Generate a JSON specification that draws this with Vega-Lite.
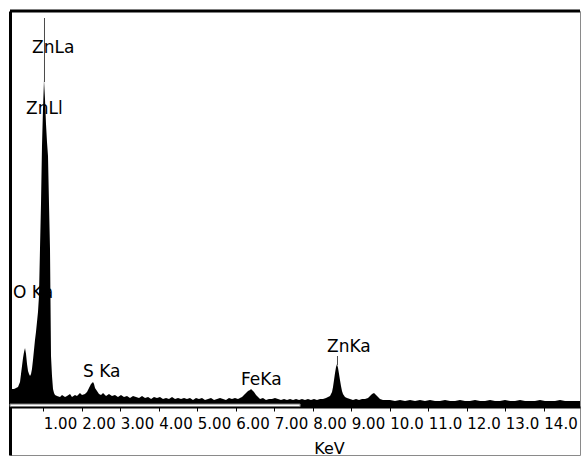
{
  "$schema": "https://vega.github.io/schema/vega-lite/v6.json",
  "width": 570,
  "height": 444,
  "autosize": "none",
  "padding": {"left": 10, "top": 11, "right": 3, "bottom": 2},
  "background": "white",
  "config": {
    "view": {"stroke": "#8a8a8a", "strokeWidth": 1},
    "font": "DejaVu Sans"
  },
  "datasets": {
    "spectrum": [
      {"kev": 0.135, "counts": 14}, {"kev": 0.187, "counts": 15}, {"kev": 0.239, "counts": 15},
      {"kev": 0.291, "counts": 16}, {"kev": 0.343, "counts": 17}, {"kev": 0.395, "counts": 22},
      {"kev": 0.421, "counts": 30}, {"kev": 0.447, "counts": 38}, {"kev": 0.473, "counts": 46},
      {"kev": 0.499, "counts": 52}, {"kev": 0.525, "counts": 56}, {"kev": 0.551, "counts": 50},
      {"kev": 0.577, "counts": 40}, {"kev": 0.603, "counts": 33}, {"kev": 0.629, "counts": 30},
      {"kev": 0.655, "counts": 28}, {"kev": 0.681, "counts": 30}, {"kev": 0.706, "counts": 35},
      {"kev": 0.732, "counts": 44}, {"kev": 0.758, "counts": 54}, {"kev": 0.784, "counts": 64},
      {"kev": 0.81, "counts": 72}, {"kev": 0.836, "counts": 82}, {"kev": 0.862, "counts": 92},
      {"kev": 0.888, "counts": 108}, {"kev": 0.914, "counts": 155}, {"kev": 0.94, "counts": 200},
      {"kev": 0.966, "counts": 258}, {"kev": 0.992, "counts": 295}, {"kev": 1.018, "counts": 324},
      {"kev": 1.044, "counts": 305}, {"kev": 1.07, "counts": 280}, {"kev": 1.096, "counts": 262},
      {"kev": 1.122, "counts": 248}, {"kev": 1.148, "counts": 200}, {"kev": 1.174, "counts": 155},
      {"kev": 1.2, "counts": 48}, {"kev": 1.226, "counts": 28}, {"kev": 1.252, "counts": 15},
      {"kev": 1.278, "counts": 11}, {"kev": 1.304, "counts": 9}, {"kev": 1.356, "counts": 8},
      {"kev": 1.434, "counts": 7}, {"kev": 1.486, "counts": 9}, {"kev": 1.564, "counts": 7},
      {"kev": 1.616, "counts": 8}, {"kev": 1.694, "counts": 10}, {"kev": 1.745, "counts": 7},
      {"kev": 1.823, "counts": 9}, {"kev": 1.875, "counts": 8}, {"kev": 1.953, "counts": 11},
      {"kev": 2.005, "counts": 9}, {"kev": 2.083, "counts": 10}, {"kev": 2.135, "counts": 12},
      {"kev": 2.187, "counts": 16}, {"kev": 2.239, "counts": 20}, {"kev": 2.265, "counts": 21},
      {"kev": 2.291, "counts": 22}, {"kev": 2.317, "counts": 20}, {"kev": 2.343, "counts": 16},
      {"kev": 2.395, "counts": 13}, {"kev": 2.447, "counts": 10}, {"kev": 2.499, "counts": 9},
      {"kev": 2.551, "counts": 11}, {"kev": 2.629, "counts": 8}, {"kev": 2.706, "counts": 10},
      {"kev": 2.784, "counts": 8}, {"kev": 2.862, "counts": 9}, {"kev": 2.94, "counts": 7},
      {"kev": 3.018, "counts": 9}, {"kev": 3.096, "counts": 7}, {"kev": 3.174, "counts": 8},
      {"kev": 3.252, "counts": 6}, {"kev": 3.33, "counts": 8}, {"kev": 3.408, "counts": 7},
      {"kev": 3.486, "counts": 6}, {"kev": 3.564, "counts": 8}, {"kev": 3.642, "counts": 6},
      {"kev": 3.722, "counts": 7}, {"kev": 3.8, "counts": 5}, {"kev": 3.875, "counts": 7},
      {"kev": 3.953, "counts": 6}, {"kev": 4.031, "counts": 7}, {"kev": 4.109, "counts": 5},
      {"kev": 4.187, "counts": 6}, {"kev": 4.265, "counts": 5}, {"kev": 4.343, "counts": 7},
      {"kev": 4.421, "counts": 5}, {"kev": 4.499, "counts": 6}, {"kev": 4.577, "counts": 5},
      {"kev": 4.655, "counts": 6}, {"kev": 4.732, "counts": 5}, {"kev": 4.81, "counts": 6},
      {"kev": 4.888, "counts": 4}, {"kev": 4.966, "counts": 6}, {"kev": 5.044, "counts": 5},
      {"kev": 5.122, "counts": 6}, {"kev": 5.2, "counts": 4}, {"kev": 5.278, "counts": 5},
      {"kev": 5.356, "counts": 6}, {"kev": 5.434, "counts": 4}, {"kev": 5.512, "counts": 5},
      {"kev": 5.59, "counts": 6}, {"kev": 5.668, "counts": 5}, {"kev": 5.745, "counts": 4},
      {"kev": 5.823, "counts": 6}, {"kev": 5.901, "counts": 5}, {"kev": 5.979, "counts": 6},
      {"kev": 6.057, "counts": 5}, {"kev": 6.109, "counts": 6}, {"kev": 6.161, "counts": 7},
      {"kev": 6.213, "counts": 9}, {"kev": 6.265, "counts": 11}, {"kev": 6.317, "counts": 13},
      {"kev": 6.369, "counts": 14}, {"kev": 6.395, "counts": 15}, {"kev": 6.421, "counts": 14},
      {"kev": 6.473, "counts": 12}, {"kev": 6.525, "counts": 9}, {"kev": 6.577, "counts": 7},
      {"kev": 6.629, "counts": 5}, {"kev": 6.706, "counts": 6}, {"kev": 6.784, "counts": 4},
      {"kev": 6.862, "counts": 5}, {"kev": 6.94, "counts": 5}, {"kev": 7.018, "counts": 6},
      {"kev": 7.096, "counts": 5}, {"kev": 7.174, "counts": 4}, {"kev": 7.252, "counts": 5},
      {"kev": 7.33, "counts": 4}, {"kev": 7.408, "counts": 5}, {"kev": 7.486, "counts": 4},
      {"kev": 7.564, "counts": 5}, {"kev": 7.642, "counts": 4}, {"kev": 7.719, "counts": 5},
      {"kev": 7.797, "counts": 4}, {"kev": 7.875, "counts": 5}, {"kev": 7.953, "counts": 4},
      {"kev": 8.031, "counts": 5}, {"kev": 8.109, "counts": 4}, {"kev": 8.187, "counts": 5},
      {"kev": 8.265, "counts": 5}, {"kev": 8.343, "counts": 6}, {"kev": 8.395, "counts": 7},
      {"kev": 8.447, "counts": 8}, {"kev": 8.499, "counts": 12}, {"kev": 8.525, "counts": 17},
      {"kev": 8.551, "counts": 24}, {"kev": 8.577, "counts": 31}, {"kev": 8.603, "counts": 37},
      {"kev": 8.629, "counts": 40}, {"kev": 8.655, "counts": 36}, {"kev": 8.681, "counts": 30},
      {"kev": 8.706, "counts": 24}, {"kev": 8.732, "counts": 18}, {"kev": 8.758, "counts": 13},
      {"kev": 8.784, "counts": 10}, {"kev": 8.836, "counts": 7}, {"kev": 8.888, "counts": 6},
      {"kev": 8.966, "counts": 5}, {"kev": 9.044, "counts": 4}, {"kev": 9.122, "counts": 5},
      {"kev": 9.2, "counts": 4}, {"kev": 9.278, "counts": 5}, {"kev": 9.356, "counts": 5},
      {"kev": 9.434, "counts": 6}, {"kev": 9.486, "counts": 8}, {"kev": 9.538, "counts": 10},
      {"kev": 9.59, "counts": 11}, {"kev": 9.642, "counts": 9}, {"kev": 9.694, "counts": 7},
      {"kev": 9.745, "counts": 5}, {"kev": 9.823, "counts": 4}, {"kev": 9.901, "counts": 4},
      {"kev": 10.005, "counts": 4}, {"kev": 10.135, "counts": 3}, {"kev": 10.265, "counts": 4},
      {"kev": 10.395, "counts": 3}, {"kev": 10.525, "counts": 4}, {"kev": 10.655, "counts": 3},
      {"kev": 10.784, "counts": 4}, {"kev": 10.914, "counts": 3}, {"kev": 11.044, "counts": 4},
      {"kev": 11.174, "counts": 3}, {"kev": 11.304, "counts": 3}, {"kev": 11.434, "counts": 4},
      {"kev": 11.564, "counts": 3}, {"kev": 11.694, "counts": 3}, {"kev": 11.823, "counts": 4},
      {"kev": 11.953, "counts": 3}, {"kev": 12.083, "counts": 3}, {"kev": 12.213, "counts": 4},
      {"kev": 12.343, "counts": 3}, {"kev": 12.473, "counts": 3}, {"kev": 12.603, "counts": 4},
      {"kev": 12.732, "counts": 3}, {"kev": 12.862, "counts": 3}, {"kev": 12.992, "counts": 4},
      {"kev": 13.122, "counts": 3}, {"kev": 13.252, "counts": 3}, {"kev": 13.382, "counts": 4},
      {"kev": 13.512, "counts": 3}, {"kev": 13.642, "counts": 3}, {"kev": 13.771, "counts": 3},
      {"kev": 13.901, "counts": 4}, {"kev": 14.031, "counts": 3}, {"kev": 14.161, "counts": 3},
      {"kev": 14.291, "counts": 3}, {"kev": 14.421, "counts": 4}, {"kev": 14.551, "counts": 3},
      {"kev": 14.68, "counts": 3}, {"kev": 14.81, "counts": 3}, {"kev": 14.94, "counts": 3}
    ],
    "lines": [
      {"label": "ZnLa", "kev": 0.706, "counts": 351},
      {"label": "ZnLl", "kev": 0.551, "counts": 290},
      {"label": "O Ka", "kev": 0.213, "counts": 106},
      {"label": "S Ka", "kev": 2.031, "counts": 27},
      {"label": "FeKa", "kev": 6.135, "counts": 19},
      {"label": "ZnKa", "kev": 8.369, "counts": 52}
    ]
  },
  "layer": [
    {
      "data": {"name": "spectrum"},
      "mark": {"type": "area", "color": "black", "interpolate": "linear"},
      "encoding": {
        "x": {
          "field": "kev", "type": "quantitative",
          "scale": {"domain": [0.135, 14.94], "nice": false, "zero": false},
          "axis": {
            "orient": "bottom", "offset": -48,
            "values": [1, 2, 3, 4, 5, 6, 7, 8, 9, 10, 11, 12, 13, 14],
            "labelExpr": "datum.value >= 10 ? format(datum.value, '.1f') : format(datum.value, '.2f')",
            "grid": false,
            "domainColor": "black", "domainWidth": 2,
            "tickColor": "black", "tickSize": 4, "tickWidth": 1,
            "labelAlign": "left", "labelDx": 1, "labelBaseline": "alphabetic",
            "labelPadding": 17, "labelFont": "DejaVu Sans", "labelFontSize": 15,
            "labelColor": "black", "labelOverlap": false, "labelFlush": false,
            "title": "KeV", "titleFont": "DejaVu Sans", "titleFontSize": 16,
            "titleFontWeight": "normal", "titleColor": "black",
            "titleX": 319, "titleY": 46, "titleAlign": "center", "titleBaseline": "alphabetic"
          }
        },
        "y": {
          "field": "counts", "type": "quantitative",
          "scale": {"domain": [-51, 393], "nice": false, "zero": false},
          "axis": {
            "orient": "left", "grid": false, "ticks": false, "labels": false,
            "title": null, "domainColor": "black", "domainWidth": 3
          }
        },
        "y2": {"datum": -3}
      }
    },
    {
      "data": {"values": [{}]},
      "mark": {"type": "rect", "fill": "white", "stroke": "#777777", "strokeWidth": 1},
      "encoding": {
        "x": {"datum": 0.135}, "x2": {"datum": 7.67},
        "y": {"datum": 0}, "y2": {"datum": -2.5}
      }
    },
    {
      "data": {"values": [{}]},
      "mark": {"type": "rule", "color": "#4a4a4a", "strokeWidth": 1},
      "encoding": {
        "x": {"datum": 1.031},
        "y": {"datum": 386}, "y2": {"datum": 322}
      }
    },
    {
      "data": {"values": [{}]},
      "mark": {"type": "rule", "color": "#4a4a4a", "strokeWidth": 1},
      "encoding": {
        "x": {"datum": 8.641},
        "y": {"datum": 48}, "y2": {"datum": 39}
      }
    },
    {
      "data": {"name": "lines"},
      "mark": {"type": "text", "align": "left", "baseline": "alphabetic", "font": "DejaVu Sans", "fontSize": 17, "color": "black"},
      "encoding": {
        "x": {"field": "kev", "type": "quantitative"},
        "y": {"field": "counts", "type": "quantitative"},
        "text": {"field": "label"}
      }
    },
    {
      "data": {"values": [{}]},
      "mark": {"type": "rule", "color": "black", "strokeWidth": 3},
      "encoding": {"y": {"datum": 393}}
    }
  ]
}
